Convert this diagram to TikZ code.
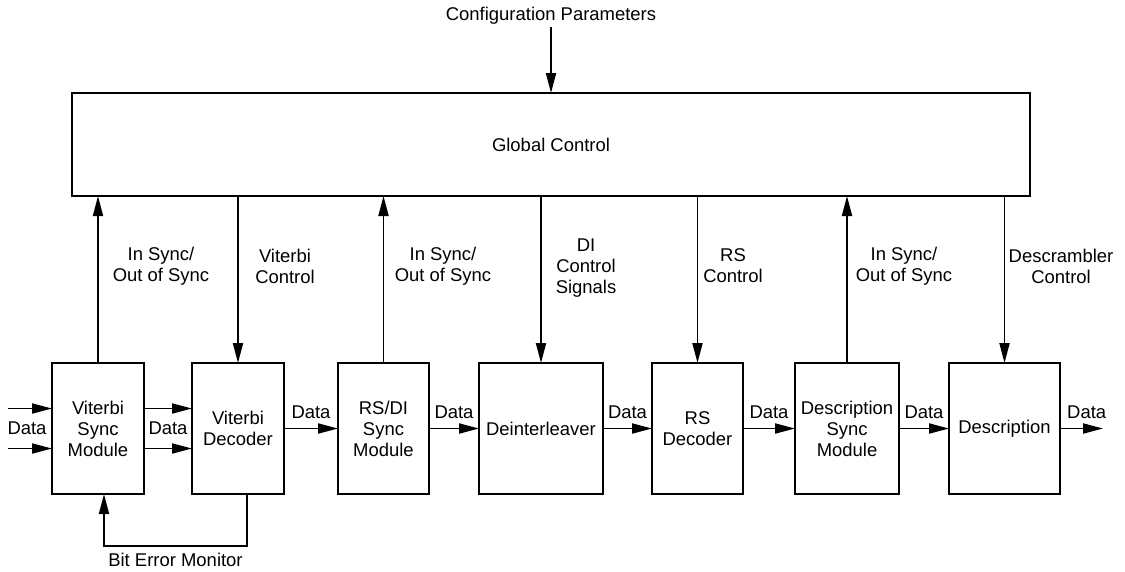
\documentclass[tikz,border=0pt]{standalone}
\usepackage{fontspec}
\setmainfont{Liberation Sans}
\usetikzlibrary{positioning, arrows.meta}

\tikzset{
  blk/.style={draw, line width=1.1pt, minimum height=2.62cm, align=center, inner sep=1pt, outer sep=0pt},
  sig/.style={line width=1.1pt, -{Triangle[length=4mm, width=2mm]}},
  lbl/.style={align=center, inner sep=1pt},
}

\begin{document}
\begin{tikzpicture}[font=\fontsize{10.5}{12}\selectfont]
    \useasboundingbox (0,0) rectangle (22.5,-11.42);
    % processing chain
    \node[blk, minimum width=1.84cm] (vsync) at (1.96,-8.57) {Viterbi\\Sync\\Module};
    \node[blk, minimum width=1.84cm, right=0.96cm of vsync] (vdec) {Viterbi\\Decoder};
    \node[blk, minimum width=1.82cm, right=1.08cm of vdec] (rsdi) {RS/DI\\Sync\\Module};
    \node[blk, minimum width=2.48cm, right=1.0cm of rsdi] (deint) {Deinterleaver};
    \node[blk, minimum width=1.82cm, right=0.98cm of deint] (rsdec) {RS\\Decoder};
    \node[blk, minimum width=2.08cm, right=1.04cm of rsdec] (dsync) {Description\\Sync\\Module};
    \node[blk, minimum width=2.22cm, right=1.0cm of dsync] (desc) {Description};

    % control block
    \node[blk, minimum width=19.16cm, minimum height=2.06cm] (global) at (11.02,-2.89) {Global Control};
    \node[lbl] (cfg) at (11.02,-0.32) {Configuration Parameters};
    \draw[sig] (cfg.south) -- (global.north -| cfg.south);

    % status and control lines
    \draw[sig] (vsync.north) -- (vsync.north |- global.south);
    \draw[sig] (vdec.north |- global.south) -- (vdec.north);
    \draw[sig] (rsdi.north) -- (rsdi.north |- global.south);
    \draw[sig] (deint.north |- global.south) -- (deint.north);
    \draw[sig] (rsdec.north |- global.south) -- (rsdec.north);
    \draw[sig] (dsync.north) -- (dsync.north |- global.south);
    \draw[sig] (desc.north |- global.south) -- (desc.north);

    \node[lbl] (syncA) at (3.22,-5.32) {In Sync/\\Out of Sync};
    \node[lbl] (vctl) at (5.70,-5.32) {Viterbi\\Control};
    \node[lbl] (syncB) at (8.86,-5.32) {In Sync/\\Out of Sync};
    \node[lbl] (dictl) at (11.72,-5.36) {DI\\Control\\Signals};
    \node[lbl] (rsctl) at (14.66,-5.32) {RS\\Control};
    \node[lbl] (syncC) at (18.08,-5.32) {In Sync/\\Out of Sync};
    \node[lbl] (dsctl) at (21.22,-5.32) {Descrambler\\Control};

    % data path
    \coordinate (inA) at (0.16,-8.17);
    \coordinate (inB) at (0.16,-8.97);
    \coordinate (out) at (22.06,-8.57);
    \draw[sig] (inA) -- (inA -| vsync.west);
    \draw[sig] (inB) -- (inB -| vsync.west);
    \node[lbl] (din) at (0.54,-8.57) {Data};
    \draw[sig] ([yshift=0.4cm]vsync.east) -- ([yshift=0.4cm]vdec.west);
    \draw[sig] ([yshift=-0.4cm]vsync.east) -- ([yshift=-0.4cm]vdec.west);
    \path (vsync) -- node[lbl] (dvit) {Data} (vdec);
    \draw[sig] (vdec) -- node[lbl, above=4pt] (drsdi) {Data} (rsdi);
    \draw[sig] (rsdi) -- node[lbl, above=4pt] (ddeint) {Data} (deint);
    \draw[sig] (deint) -- node[lbl, above=4pt] (drsdec) {Data} (rsdec);
    \draw[sig] (rsdec) -- node[lbl, above=4pt] (ddsync) {Data} (dsync);
    \draw[sig] (dsync) -- node[lbl, above=4pt] (ddesc) {Data} (desc);
    \draw[sig] (desc) -- node[lbl, pos=0.62, above=4pt] (dout) {Data} (out);

    % feedback
    \draw[sig] ([xshift=0.18cm]vdec.south) -- ++(0,-1.04)
        -| node[lbl, pos=0.25, below=2.5pt] (bem) {Bit Error Monitor} ([xshift=0.12cm]vsync.south);
\end{tikzpicture}
\end{document}
